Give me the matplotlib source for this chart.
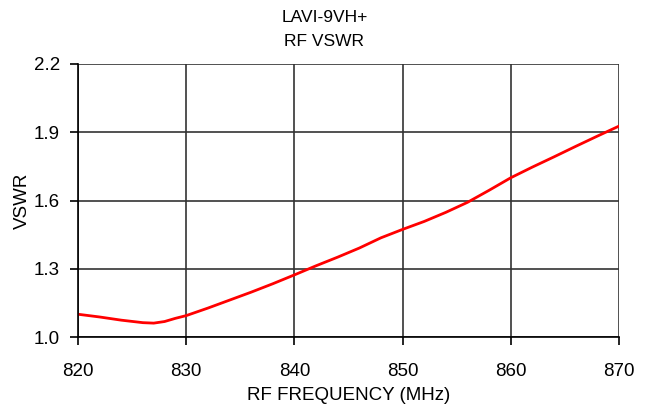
import matplotlib.pyplot as plt

plt.rcParams['font.family'] = ['Liberation Sans', 'DejaVu Sans']

# Data
freq = [820, 822, 824, 826, 827, 828, 829, 830, 832, 834, 836, 838, 840, 842,
        844, 846, 848, 850, 852, 854, 856, 858, 860, 862, 864, 866, 868, 870]
vswr = [1.100, 1.088, 1.074, 1.063, 1.061, 1.068, 1.082, 1.094, 1.127, 1.162,
        1.197, 1.234, 1.273, 1.313, 1.351, 1.391, 1.436, 1.473, 1.508, 1.548,
        1.592, 1.645, 1.700, 1.747, 1.792, 1.838, 1.883, 1.927]

xticks = [820, 830, 840, 850, 860, 870]
yticks = [1.0, 1.3, 1.6, 1.9, 2.2]

fig = plt.figure(figsize=(6.49, 4.08), dpi=100)
ax = fig.add_axes([78 / 649, 1 - 337 / 408, 541 / 649, 273 / 408])

ax.plot(freq, vswr, color='#ff0000', linewidth=2)

ax.set_xlim(820, 870)
ax.set_ylim(1.0, 2.2)
ax.set_xticks(xticks)
ax.set_yticks(yticks)
ax.set_yticklabels([f"{v:.1f}" for v in yticks])
ax.grid(True, color='#333333', linewidth=1.2)
ax.set_axisbelow(True)

for side in ['top', 'right']:
    ax.spines[side].set_visible(False)
for side in ['left', 'bottom']:
    ax.spines[side].set_color('black')
    ax.spines[side].set_linewidth(1.2)

ax.tick_params(direction='out', length=6, width=1.2, labelsize=13.5)
ax.tick_params(axis='x', pad=13)
ax.tick_params(axis='y', pad=7)

ax.set_xlabel("RF FREQUENCY (MHz)", fontsize=13.5, labelpad=5)
ax.set_ylabel("VSWR", fontsize=13.5, labelpad=2)
fig.text(0.5, 1 - 17 / 408, "LAVI-9VH+", ha='center', va='center', fontsize=12.5)
fig.text(0.5, 1 - 41 / 408, "RF VSWR", ha='center', va='center', fontsize=12.5)

plt.savefig("out.png", dpi=100)
